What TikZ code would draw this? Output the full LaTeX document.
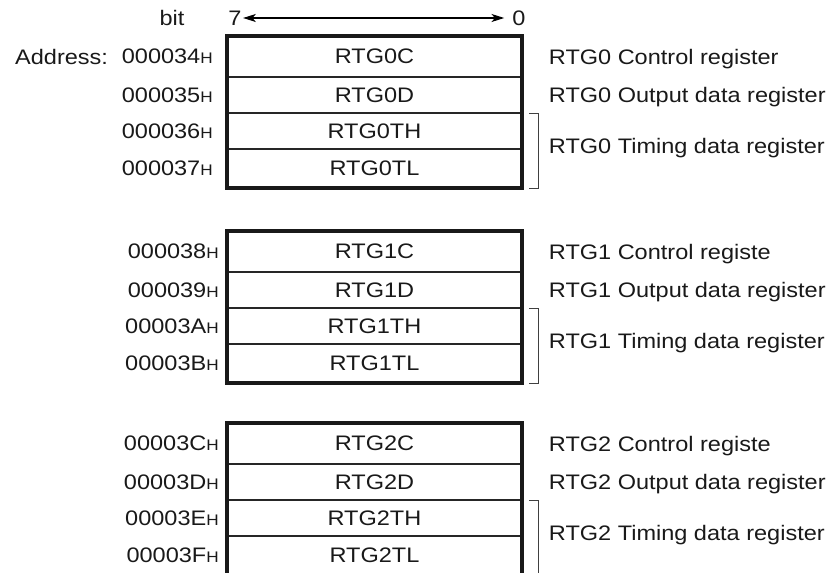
\documentclass[tikz,border=0pt]{standalone}
\usepackage{fontspec}
\setmainfont[FakeStretch=1.12]{Liberation Sans}
\usetikzlibrary{arrows.meta,positioning}
\newcommand{\hsuf}{{\fontsize{11.5pt}{12pt}\selectfont H}}
\tikzset{
    every node/.style={font=\fontsize{15.75pt}{18pt}\selectfont, text=black!90},
    line/.style={{Stealth[length=9.5pt,width=6pt,inset=2.5pt]}-{Stealth[length=9.5pt,width=6pt,inset=2.5pt]}, line width=0.8pt},
    reg/.style={rectangle, draw=black!85, line width=0.9pt, minimum width=221.25pt, minimum height=27pt, inner sep=0pt, outer sep=0pt},
    frame/.style={draw=black!90, line width=2.5pt},
    bracket/.style={draw=black!75, line width=0.6pt},
    addr/.style={inner sep=0pt},
    desc/.style={inner sep=0pt, text depth=0pt}
}

\begin{document}
\begin{tikzpicture}[
    x=0.75pt, y=-0.75pt,
    % pixel grid of the original figure
]
\useasboundingbox (0,0) rectangle (834,573);

\node (bit) at (172,18) {bit};
\node[inner sep=1pt] (msb) at (235,18) {7};
\node[inner sep=1pt] (lsb) at (519,18) {0};
\draw[line, shorten >=5pt] (msb) -- (lsb);

% RTG0
\node[reg, anchor=north, minimum height=30.75pt] (c0) at (374.5,36) {RTG0C};
\node[reg, below=0pt of c0] (d0) {RTG0D};
\node[reg, below=0pt of d0] (th0) {RTG0TH};
\node[reg, below=0pt of th0, minimum height=29.25pt] (tl0) {RTG0TL};
\draw[frame] (c0.north west) rectangle (tl0.south east);

\node[addr, left=10.5pt of c0] (ac0) {000034\hsuf};
\node[addr, left=10.5pt of d0] (ad0) {000035\hsuf};
\node[addr, left=10.5pt of th0] (ath0) {000036\hsuf};
\node[addr, left=10.5pt of tl0] (atl0) {000037\hsuf};
\node[addr, left=10pt of ac0] (addr) {Address:};

\node[desc, right=20pt of c0] (dc0) {RTG0 Control register};
\node[desc, right=20pt of d0] (dd0) {RTG0 Output data register};
\node[desc, right=20pt of th0.south east, yshift=2pt] (dt0) {RTG0 Timing data register};
\draw[bracket] ([xshift=5.25pt]th0.north east) -- ++(9,0) |- ([xshift=5.25pt]tl0.south east);

% RTG1
\node[reg, anchor=north, minimum height=30.75pt] (c1) at (374.5,231) {RTG1C};
\node[reg, below=0pt of c1] (d1) {RTG1D};
\node[reg, below=0pt of d1] (th1) {RTG1TH};
\node[reg, below=0pt of th1, minimum height=29.25pt] (tl1) {RTG1TL};
\draw[frame] (c1.north west) rectangle (tl1.south east);

\node[addr, left=6pt of c1] (ac1) {000038\hsuf};
\node[addr, left=6pt of d1] (ad1) {000039\hsuf};
\node[addr, left=6pt of th1] (ath1) {00003A\hsuf};
\node[addr, left=6pt of tl1] (atl1) {00003B\hsuf};

\node[desc, right=20pt of c1] (dc1) {RTG1 Control registe};
\node[desc, right=20pt of d1] (dd1) {RTG1 Output data register};
\node[desc, right=20pt of th1.south east, yshift=2pt] (dt1) {RTG1 Timing data register};
\draw[bracket] ([xshift=5.25pt]th1.north east) -- ++(9,0) |- ([xshift=5.25pt]tl1.south east);

% RTG2
\node[reg, anchor=north, minimum height=30.75pt] (c2) at (374.5,423) {RTG2C};
\node[reg, below=0pt of c2] (d2) {RTG2D};
\node[reg, below=0pt of d2] (th2) {RTG2TH};
\node[reg, below=0pt of th2, minimum height=29.25pt] (tl2) {RTG2TL};
\draw[frame] (c2.north west) rectangle (tl2.south east);

\node[addr, left=6pt of c2] (ac2) {00003C\hsuf};
\node[addr, left=6pt of d2] (ad2) {00003D\hsuf};
\node[addr, left=6pt of th2] (ath2) {00003E\hsuf};
\node[addr, left=6pt of tl2] (atl2) {00003F\hsuf};

\node[desc, right=20pt of c2] (dc2) {RTG2 Control registe};
\node[desc, right=20pt of d2] (dd2) {RTG2 Output data register};
\node[desc, right=20pt of th2.south east, yshift=2pt] (dt2) {RTG2 Timing data register};
\draw[bracket] ([xshift=5.25pt]th2.north east) -- ++(9,0) |- ([xshift=5.25pt]tl2.south east);

\end{tikzpicture}
\end{document}
